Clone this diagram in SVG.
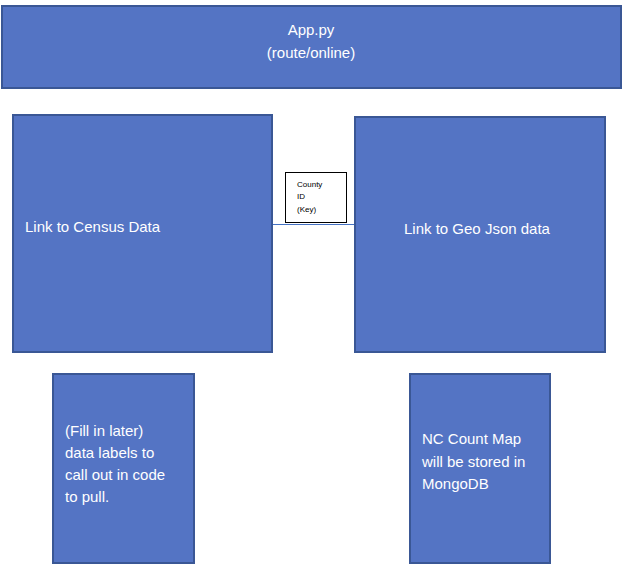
<svg xmlns="http://www.w3.org/2000/svg" width="623" height="571" viewBox="0 0 623 571">
<style>
.box{fill:#5474C4;stroke:#3A5795;stroke-width:2}
.t{font-family:"Liberation Sans",Arial,sans-serif;font-size:15px;fill:#ffffff}
.s{font-family:"Liberation Sans",Arial,sans-serif;font-size:8px;fill:#000000}
</style>
<rect x="0" y="0" width="623" height="571" fill="#ffffff"/>
<g id="app">
<rect class="box" x="2" y="6" width="619" height="82"/>
<text class="t" x="311" y="35" text-anchor="middle">App.py</text>
<text class="t" x="311" y="58" text-anchor="middle">(route/online)</text>
</g>
<g id="connectors">
<line x1="272" y1="224.5" x2="355" y2="224.5" stroke="#4472C4" stroke-width="1"/>
</g>
<g id="census">
<rect class="box" x="13" y="115" width="259" height="237"/>
<text class="t" x="25" y="232">Link to Census Data</text>
</g>
<g id="geojson">
<rect class="box" x="355" y="117" width="250" height="235"/>
<text class="t" x="404" y="234">Link to Geo Json data</text>
</g>
<g id="key">
<rect x="285.5" y="172.5" width="61" height="50" fill="#ffffff" stroke="#000000" stroke-width="1"/>
<text class="s" x="297" y="187">County</text>
<text class="s" x="297" y="199">ID</text>
<text class="s" x="297" y="212">(Key)</text>
</g>
<g id="labels">
<rect class="box" x="53" y="374" width="141" height="189"/>
<text class="t" x="65" y="436">(Fill in later)</text>
<text class="t" x="65" y="458">data labels to</text>
<text class="t" x="65" y="480">call out in code</text>
<text class="t" x="65" y="502">to pull.</text>
</g>
<g id="mongo">
<rect class="box" x="410" y="374" width="140" height="189"/>
<text class="t" x="422" y="444">NC Count Map</text>
<text class="t" x="422" y="467">will be stored in</text>
<text class="t" x="422" y="489">MongoDB</text>
</g>
</svg>
